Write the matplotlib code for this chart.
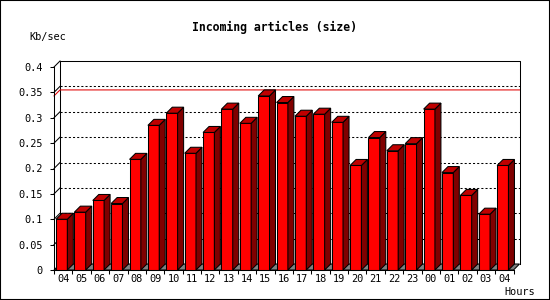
import numpy as np
import matplotlib.pyplot as plt
from matplotlib.patches import Polygon, Rectangle

hours = ['04', '05', '06', '07', '08', '09', '10', '11', '12', '13', '14', '15', '16',
         '17', '18', '19', '20', '21', '22', '23', '00', '01', '02', '03', '04']
values = [0.100, 0.114, 0.137, 0.131, 0.218, 0.285, 0.309, 0.230, 0.271, 0.317,
          0.289, 0.343, 0.330, 0.303, 0.307, 0.291, 0.206, 0.261, 0.235, 0.249,
          0.317, 0.192, 0.147, 0.110, 0.206]
yticks = [0, 0.05, 0.1, 0.15, 0.2, 0.25, 0.3, 0.35, 0.4]

mono = 'DejaVu Sans Mono'
front = '#ff0000'
top_c = '#c00000'
side_c = '#800000'
floor_c = '#808080'

W, H = 550, 300
# front plane in pixels (left, right, bottom, top measured from top)
px_l, px_r, px_b, px_t = 54, 513.5, 270, 67
depth = 6  # 3d offset in pixels

fig = plt.figure(figsize=(W / 100, H / 100), dpi=100)
ax = fig.add_axes([px_l / W, (H - px_b) / H, (px_r - px_l) / W, (px_b - px_t) / H])
n = len(values)
ymax = yticks[-1]
ax.set_xlim(0, n)
ax.set_ylim(0, ymax)
dx = depth * n / (px_r - px_l)
dy = depth * ymax / (px_b - px_t)

lw = 0.75
kw = dict(clip_on=False, lw=lw, color='black')

# back wall outline
ax.plot([dx, dx, n + dx, n + dx], [dy, ymax + dy, ymax + dy, dy], **kw)
ax.plot([0, dx], [ymax, ymax + dy], **kw)
# grid on back wall plus slant on left wall
for t in yticks[1:-1]:
    ax.plot([dx, n + dx], [t + dy, t + dy], clip_on=False, lw=lw, color='black',
            linestyle=(0, (2, 2)))
    ax.plot([0, dx], [t, t + dy], **kw)

# max line
vmax = max(values)
ax.plot([0, dx, n + dx], [vmax, vmax + dy, vmax + dy], clip_on=False, lw=lw, color='#e00000')

# floor
ax.add_patch(Polygon([(0, 0), (n, 0), (n + dx, dy), (dx, dy)], closed=True,
                     facecolor=floor_c, edgecolor='black', lw=lw, clip_on=False))

# bars
x = np.arange(n)
off, bw = 0.11, 0.615
ax.bar(x + off, values, width=bw, align='edge', color=front, edgecolor='black',
       linewidth=lw, zorder=3, clip_on=False)
for i, v in enumerate(values):
    l = i + off
    r = l + bw
    ax.add_patch(Polygon([(r, 0), (r, v), (r + dx, v + dy), (r + dx, dy)], closed=True,
                         facecolor=side_c, edgecolor='black', lw=lw, zorder=3, clip_on=False))
    ax.add_patch(Polygon([(l, v), (l + dx, v + dy), (r + dx, v + dy), (r, v)], closed=True,
                         facecolor=top_c, edgecolor='black', lw=lw, zorder=3, clip_on=False))

# axes
for s in ['top', 'right']:
    ax.spines[s].set_visible(False)
for s in ['left', 'bottom']:
    ax.spines[s].set_linewidth(lw)
    ax.spines[s].set_zorder(4)
ax.set_yticks(yticks)
ax.set_yticklabels([f'{t:g}' for t in yticks], fontfamily=mono, fontsize=7.4)
ax.set_xticks(np.arange(n + 1))
ax.set_xticklabels([])
ax.set_xticks(x + 0.5, hours, minor=True, fontfamily=mono, fontsize=7.4)
ax.tick_params(axis='y', length=3, width=lw, pad=5)
ax.tick_params(axis='x', which='major', length=3, width=lw)
ax.tick_params(axis='x', which='minor', length=0, pad=3)
ax.set_facecolor('none')

fig.text(274 / W, 1 - 27 / H, 'Incoming articles (size)', fontfamily=mono,
         fontweight='bold', fontsize=8.3, ha='center', va='center')
fig.text(29 / W, 1 - 37 / H, 'Kb/sec', fontfamily=mono, fontsize=7.4, ha='left', va='center')
fig.text(504 / W, 1 - 292 / H, 'Hours', fontfamily=mono, fontsize=7.4, ha='left', va='center')

fig.patches.append(Rectangle((0, 0), 1, 1, transform=fig.transFigure, fill=False,
                             edgecolor='black', lw=1.5))

fig.savefig('out.png', dpi=100)
